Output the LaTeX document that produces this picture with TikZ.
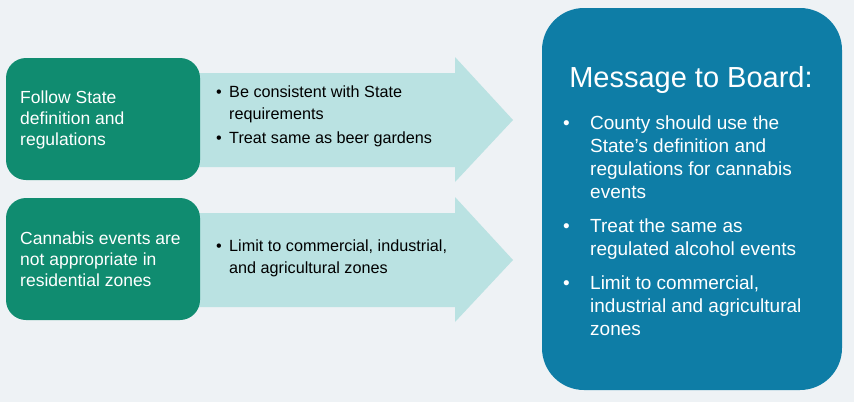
\documentclass[tikz,border=0pt]{standalone}
\usepackage{fontspec}
\setmainfont{Liberation Sans}
\usepackage{tikz}
\usetikzlibrary{positioning}
\definecolor{bgcol}{RGB}{238,242,245}
\definecolor{leafgreen}{RGB}{16,140,112}
\definecolor{arrowcyan}{RGB}{186,226,226}
\definecolor{boardblue}{RGB}{14,125,166}
\newcommand{\bitem}[2][13pt]{\makebox[#1][l]{\textbullet}#2}
\newcommand{\bcont}[2][13pt]{\hspace*{#1}#2}

\begin{document}
\begin{tikzpicture}[x=1pt,y=-1pt,
  greenbox/.style={fill=leafgreen,rounded corners=20pt},
  arrowbody/.style={fill=arrowcyan},
  lefttext/.style={anchor=west,align=left,text=white,
    font=\fontsize{17.5}{21}\selectfont,inner sep=0pt},
  arrowtext/.style={anchor=west,align=left,text=black,
    font=\fontsize{16.2}{22.5}\selectfont,inner sep=0pt},
  boardtext/.style={anchor=west,align=left,text=white,
    font=\fontsize{19}{23}\selectfont,inner sep=0pt}]
  \useasboundingbox[fill=bgcol] (0,0) rectangle (854,402);

  % arrows
  \fill[arrowbody] (180,73) -- (455,73) -- (455,57) -- (513,120)
    -- (455,182) -- (455,167) -- (180,167) -- cycle;
  \fill[arrowbody] (180,213) -- (455,213) -- (455,197) -- (513,260)
    -- (455,322) -- (455,307) -- (180,307) -- cycle;

  % left boxes
  \fill[greenbox] (6,58) rectangle (200,180);
  \fill[greenbox] (6,198) rectangle (200,320);
  \node[lefttext] (follow) at (20,120)
    {Follow State\\definition and\\regulations};
  \node[lefttext] (cannabis) at (20,259.5)
    {Cannabis events are\\not appropriate in\\residential zones};

  % arrow texts
  \node[arrowtext] (consistent) at (216,116)
    {\bitem{Be consistent with State}\\\bcont{requirements}\\[1pt]
     \bitem{Treat same as beer gardens}};
  \node[arrowtext] (limit) at (216,258.5)
    {\bitem{Limit to commercial, industrial,}\\\bcont{and agricultural zones}};

  % board box
  \fill[boardblue,rounded corners=42pt] (542,8) rectangle (842,390);
  \node[text=white,font=\fontsize{29}{34}\selectfont,inner sep=0pt]
    (board) at (691,80) {Message to Board:};
  \node[boardtext] (message) at (563,225.5)
    {\bitem[27pt]{County should use the}\\\bcont[27pt]{State's definition and}\\
     \bcont[27pt]{regulations for cannabis}\\\bcont[27pt]{events}\\[11pt]
     \bitem[27pt]{Treat the same as}\\\bcont[27pt]{regulated alcohol events}\\[11pt]
     \bitem[27pt]{Limit to commercial,}\\\bcont[27pt]{industrial and agricultural}\\
     \bcont[27pt]{zones}};
\end{tikzpicture}
\end{document}
